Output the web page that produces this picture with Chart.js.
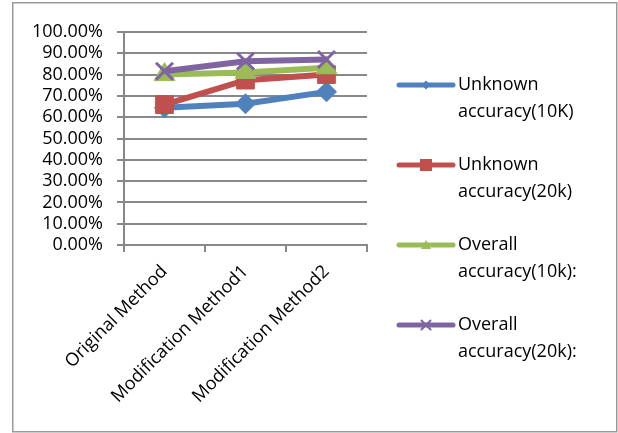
<!DOCTYPE html>
<html>
<head>
<meta charset="utf-8">
<script src="https://cdn.jsdelivr.net/npm/chart.js@4.4.0/dist/chart.umd.min.js"></script>
<style>
  html, body { margin: 0; padding: 0; background: #fff; }
  #wrap { position: relative; width: 618px; height: 433px; }
</style>
</head>
<body>
<div id="wrap"><canvas id="c" width="618" height="433"></canvas></div>
<script>
const categories = ['Original Method', 'Modification Method1', 'Modification Method2'];
const unknown10k = [64.4, 66.3, 71.9];
const unknown20k = [65.9, 77.4, 80.0];
const overall10k = [80.0, 81.0, 83.2];
const overall20k = [81.6, 86.3, 87.1];
const seriesNames = [
  ['Unknown', 'accuracy(10K)'],
  ['Unknown', 'accuracy(20k)'],
  ['Overall', 'accuracy(10k):'],
  ['Overall', 'accuracy(20k):']
];
const yTicks = [0, 10, 20, 30, 40, 50, 60, 70, 80, 90, 100];

const colors = ['#4F81BD', '#C0504D', '#9BBB59', '#8064A2'];
const FONT = '"Open Sans", sans-serif';

function drawMarker(ctx, style, x, y, s, color) {
  ctx.save();
  ctx.fillStyle = color;
  ctx.strokeStyle = color;
  ctx.beginPath();
  if (style === 'rectRot') {
    ctx.moveTo(x - s, y); ctx.lineTo(x, y - s); ctx.lineTo(x + s, y); ctx.lineTo(x, y + s); ctx.closePath(); ctx.fill();
  } else if (style === 'rect') {
    ctx.rect(x - s, y - s, 2 * s, 2 * s); ctx.fill();
  } else if (style === 'triangle') {
    ctx.moveTo(x - s, y + s * 0.8); ctx.lineTo(x, y - s); ctx.lineTo(x + s, y + s * 0.8); ctx.closePath(); ctx.fill();
  } else if (style === 'crossRot') {
    ctx.lineWidth = 2;
    ctx.moveTo(x - s, y - s); ctx.lineTo(x + s, y + s);
    ctx.moveTo(x + s, y - s); ctx.lineTo(x - s, y + s); ctx.stroke();
  }
  ctx.restore();
}

const styles = ['rectRot', 'rect', 'triangle', 'crossRot'];
const legendSizes = [4.5, 6, 5, 4.5];

const legendPlugin = {
  id: 'customLegend',
  afterDraw(chart) {
    const ctx = chart.ctx;
    ctx.save();
    ctx.strokeStyle = '#9a9a9a';
    ctx.lineWidth = 1.5;
    ctx.strokeRect(12.75, 2.75, 604, 429);
    const x0 = 399, x1 = 453, tx = 458;
    seriesNames.forEach((lines, i) => {
      const y = 85 + i * 80;
      ctx.strokeStyle = colors[i];
      ctx.lineWidth = 5;
      ctx.lineCap = 'round';
      ctx.beginPath(); ctx.moveTo(x0, y); ctx.lineTo(x1, y); ctx.stroke();
      drawMarker(ctx, styles[i], (x0 + x1) / 2, y, legendSizes[i], colors[i]);
      ctx.fillStyle = '#000';
      ctx.font = '18px ' + FONT;
      ctx.textAlign = 'left';
      ctx.textBaseline = 'middle';
      lines.forEach((t, j) => ctx.fillText(t, tx, y + j * 27));
    });
    ctx.restore();
  }
};

const allData = [unknown10k, unknown20k, overall10k, overall20k];
const radii = [10, 12.5, 12, 12];
const datasets = allData.map((d, i) => ({
  label: seriesNames[i].join(' '),
  data: d,
  borderColor: colors[i],
  backgroundColor: colors[i],
  borderWidth: 6,
  pointStyle: styles[i],
  pointRadius: radii[i],
  pointHoverRadius: radii[i],
  pointBorderWidth: styles[i] === 'crossRot' ? 3 : 1,
  pointBorderColor: colors[i],
  pointBackgroundColor: colors[i],
  tension: 0,
  fill: false,
  order: 4 - i
}));

new Chart(document.getElementById('c'), {
  type: 'line',
  data: { labels: categories, datasets },
  plugins: [legendPlugin],
  options: {
    responsive: false,
    animation: false,
    devicePixelRatio: 1,
    layout: { padding: { left: 0, top: 32, right: 251, bottom: 0 } },
    plugins: { legend: { display: false }, tooltip: { enabled: false } },
    scales: {
      x: {
        type: 'category',
        offset: true,
        grid: { display: true, drawOnChartArea: false, offset: true, color: '#888', lineWidth: 2, tickLength: 7 },
        border: { display: true, color: '#888', width: 2 },
        ticks: { color: '#000', font: { family: FONT, size: 18 }, minRotation: 45, maxRotation: 45, padding: 9, autoSkip: false },
        afterFit(scale) { scale.height = 433 - 245; }
      },
      y: {
        min: 0, max: 100,
        afterBuildTicks(scale) { scale.ticks = yTicks.map(v => ({ value: v })); },
        grid: { color: '#888', lineWidth: 2, tickLength: 7 },
        border: { display: true, color: '#888', width: 2 },
        ticks: {
          color: '#000', font: { family: FONT, size: 18 }, padding: 14, autoSkip: false,
          callback: v => v.toFixed(2) + '%'
        },
        afterFit(scale) { scale.width = 124; }
      }
    }
  }
});
</script>
</body>
</html>
